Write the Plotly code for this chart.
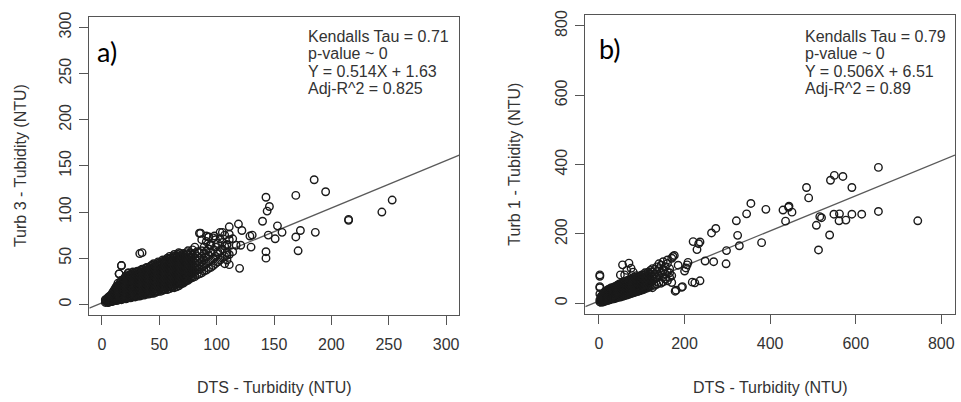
import plotly.graph_objects as go

# ---------------- panel a) : Turb 3 vs DTS ----------------
# dense cloud, listed column by column: x -> y values
a_cloud = [
    (3, [2, 4, 5]),
    (4, [3, 4]),
    (5, [2, 3, 5, 7]),
    (6, [2, 4, 6, 8]),
    (7, [3, 5, 7, 9]),
    (8, [3, 4, 6, 8, 10]),
    (9, [3, 5, 7, 9, 12]),
    (10, [4, 6, 7, 9, 11, 14]),
    (11, [4, 6, 8, 10, 13, 16]),
    (12, [5, 7, 9, 12, 15, 18]),
    (13, [4, 6, 9, 11, 14, 17, 20]),
    (14, [5, 8, 10, 13, 16, 19, 23]),
    (15, [5, 7, 9, 12, 15, 18, 21, 33]),
    (16, [6, 8, 11, 14, 17, 20, 24]),
    (17, [5, 8, 10, 13, 16, 19, 22, 26, 42]),
    (18, [6, 9, 12, 15, 18, 21, 25]),
    (19, [6, 8, 11, 14, 17, 20, 24, 27]),
    (20, [7, 10, 13, 16, 19, 23, 26, 29]),
    (21, [6, 9, 12, 15, 18, 21, 25, 28, 31]),
    (22, [7, 11, 14, 17, 20, 24, 27, 30]),
    (23, [7, 10, 13, 16, 19, 22, 26, 29, 34]),
    (24, [8, 11, 14, 18, 21, 25, 28, 32]),
    (25, [7, 10, 13, 16, 20, 23, 27, 30]),
    (26, [8, 12, 15, 18, 22, 25, 29, 33]),
    (27, [8, 11, 14, 17, 20, 24, 28, 31, 35]),
    (28, [9, 12, 16, 19, 23, 26, 30, 34]),
    (29, [8, 11, 15, 18, 21, 25, 29, 32]),
    (30, [9, 13, 17, 20, 24, 28, 31, 35]),
    (31, [9, 12, 15, 19, 22, 26, 30, 33, 36]),
    (32, [10, 14, 17, 21, 25, 29, 32, 36]),
    (33, [9, 12, 16, 19, 23, 27, 31, 34, 55]),
    (34, [10, 14, 18, 22, 26, 30, 33, 37]),
    (35, [10, 13, 17, 20, 24, 28, 32, 35, 38, 56]),
    (36, [11, 15, 19, 23, 27, 31, 34, 38]),
    (37, [10, 14, 17, 21, 25, 29, 33, 36]),
    (38, [12, 16, 20, 24, 28, 32, 35, 39]),
    (39, [11, 14, 18, 22, 26, 30, 34, 37, 40]),
    (40, [12, 16, 21, 25, 29, 33, 36, 40]),
    (41, [11, 15, 19, 23, 27, 31, 35, 38]),
    (42, [13, 17, 22, 26, 30, 34, 38, 41]),
    (43, [12, 16, 20, 24, 28, 32, 36, 39, 42]),
    (44, [14, 18, 22, 26, 30, 34, 38, 42]),
    (45, [12, 16, 20, 24, 28, 32, 36, 40, 44]),
    (46, [14, 19, 23, 27, 31, 35, 39, 43]),
    (47, [13, 17, 21, 25, 29, 33, 37, 41]),
    (48, [15, 20, 24, 28, 32, 36, 40, 44]),
    (49, [14, 18, 22, 26, 30, 34, 38, 42, 46]),
    (50, [16, 20, 25, 29, 33, 37, 41, 45]),
    (51, [14, 18, 23, 27, 31, 35, 39, 43]),
    (52, [16, 21, 25, 30, 34, 38, 42, 46]),
    (53, [15, 19, 23, 28, 32, 36, 40, 44, 48]),
    (54, [17, 22, 26, 30, 35, 39, 43, 47]),
    (55, [16, 20, 24, 28, 33, 37, 41, 45]),
    (56, [18, 23, 27, 31, 35, 40, 44, 48]),
    (57, [16, 21, 25, 29, 33, 38, 42, 46, 50]),
    (58, [19, 23, 28, 32, 36, 41, 45, 49]),
    (59, [17, 21, 26, 30, 34, 39, 43, 47, 52]),
    (60, [19, 24, 29, 33, 37, 42, 46, 50]),
    (61, [18, 22, 27, 31, 35, 40, 44, 48]),
    (62, [20, 25, 29, 34, 38, 43, 47, 52]),
    (63, [18, 23, 27, 32, 36, 41, 45, 50, 54]),
    (64, [21, 26, 30, 35, 39, 44, 48, 52]),
    (65, [19, 24, 28, 33, 37, 42, 46, 51]),
    (66, [22, 27, 31, 36, 40, 45, 49, 54]),
    (67, [20, 25, 29, 34, 38, 43, 47, 52, 56]),
    (68, [23, 28, 32, 37, 41, 46, 50, 55]),
    (69, [22, 26, 30, 35, 39, 44, 48, 53]),
    (70, [24, 29, 33, 38, 43, 47, 52]),
    (71, [23, 27, 32, 36, 41, 45, 50, 55]),
    (72, [25, 30, 35, 39, 44, 49, 53]),
    (73, [25, 29, 34, 38, 42, 47, 51]),
    (74, [27, 32, 36, 41, 46, 50, 56]),
    (75, [26, 31, 35, 40, 44, 49, 54, 58]),
    (76, [28, 33, 38, 43, 48, 53]),
    (77, [28, 33, 37, 42, 46, 51, 56]),
    (78, [30, 35, 40, 45, 50, 55]),
    (79, [29, 34, 38, 43, 48, 53, 59]),
    (81, [30, 35, 40, 45, 50, 55, 62]),
    (83, [32, 37, 42, 47, 52, 57]),
    (85, [33, 38, 44, 50, 56, 77]),
    (87, [34, 40, 46, 52, 58, 70]),
    (89, [36, 42, 48, 55, 62]),
    (91, [37, 44, 51, 58, 68, 74]),
    (93, [39, 46, 53, 60, 73]),
    (95, [40, 48, 56, 64]),
    (97, [42, 50, 59, 72]),
    (99, [44, 52, 62, 70]),
    (101, [46, 55, 57, 66]),
    (103, [48, 58, 71, 78]),
    (105, [50, 60, 67, 78]),
    (107, [44, 52, 63, 75]),
    (109, [48, 53, 56, 64, 65]),
    (111, [43, 54, 70, 76, 84]),
]
# scattered high readings
a_x_extra = [253, 244, 215, 215, 195, 185, 186, 169, 173, 169, 171, 157, 153, 151,
             145, 143, 146, 144, 140, 143, 143, 131, 129, 130, 120, 119, 122, 117,
             121, 114, 114, 98, 93, 86, 94, 101, 17, 15, 23]
a_y_extra = [113, 100, 92, 91, 122, 135, 78, 118, 80, 73, 58, 78, 85, 71,
             75, 116, 106, 101, 90, 57, 50, 75, 74, 62, 39, 87, 80, 64,
             64, 71, 57, 74, 73, 77, 64, 46, 42, 33, 34]

# ---------------- panel b) : Turb 1 vs DTS ----------------
b_cloud = [
    (2, [4, 10, 27, 45, 48, 78, 82]),
    (5, [3, 8, 14, 20]),
    (7.5, [5, 11, 17, 23]),
    (10, [4, 10, 16, 22, 28]),
    (12.5, [7, 13, 19, 25, 31]),
    (15, [6, 12, 18, 24, 30, 36]),
    (17.5, [9, 15, 21, 27, 33]),
    (20, [8, 14, 20, 26, 32, 38]),
    (22.5, [11, 17, 23, 29, 35, 41]),
    (25, [10, 16, 22, 28, 34, 40]),
    (27.5, [13, 19, 25, 31, 37, 44]),
    (30, [12, 18, 24, 30, 36, 42]),
    (32.5, [14, 21, 27, 33, 40, 46]),
    (35, [13, 19, 25, 31, 37, 44]),
    (37.5, [16, 22, 29, 36, 42, 49]),
    (40, [15, 21, 27, 33, 40, 47]),
    (42.5, [18, 24, 31, 38, 45, 52]),
    (45, [17, 23, 29, 36, 43, 50]),
    (47.5, [20, 26, 33, 40, 48, 56]),
    (50, [18, 25, 32, 39, 46, 53, 82]),
    (52.5, [21, 28, 35, 43, 50, 58]),
    (55, [20, 27, 34, 41, 48, 55, 111]),
    (57.5, [23, 30, 38, 45, 53, 61]),
    (60, [22, 29, 36, 43, 50, 57, 82]),
    (62.5, [25, 32, 40, 48, 56, 64]),
    (65, [24, 31, 38, 45, 52, 60, 95]),
    (67.5, [27, 35, 43, 51, 59, 67]),
    (70, [26, 33, 40, 47, 54, 62, 116]),
    (72.5, [29, 37, 45, 53, 61, 70]),
    (75, [28, 35, 42, 49, 57, 65, 101]),
    (77.5, [31, 39, 47, 55, 64, 72]),
    (80, [30, 37, 44, 52, 60, 68, 90]),
    (82.5, [33, 41, 50, 58, 67, 76]),
    (85, [32, 40, 48, 56, 64, 72]),
    (87.5, [35, 44, 53, 62, 71, 80]),
    (90, [34, 42, 50, 58, 66, 75]),
    (92.5, [37, 46, 56, 65, 74]),
    (95, [36, 44, 53, 62, 70, 78]),
    (97.5, [39, 49, 58, 68, 78]),
    (100, [38, 47, 56, 65, 74, 82]),
    (102.5, [42, 52, 62, 72, 82]),
    (105, [40, 50, 60, 70, 80]),
    (107.5, [44, 55, 66, 77, 88]),
    (110, [43, 53, 63, 74, 85]),
    (112.5, [47, 58, 69, 80]),
    (115, [45, 56, 67, 78, 90]),
    (117.5, [50, 62, 74, 86]),
    (120, [48, 60, 72, 84, 95]),
    (125, [45, 65, 78, 90, 100]),
    (130, [52, 70, 85, 98]),
    (135, [55, 75, 92, 105]),
    (140, [60, 80, 100, 114]),
    (145, [58, 88, 110]),
    (150, [62, 75, 95, 120]),
    (155, [70, 85, 105]),
    (160, [65, 90, 115, 125]),
    (165, [75, 100, 88]),
    (170, [80, 60, 130]),
]
b_x_extra = [745, 653, 653, 614, 591, 591, 570, 550, 541, 562, 549, 561, 577, 539,
             513, 508, 516, 520, 490, 485, 451, 443, 444, 430, 436, 390, 380, 355,
             345, 328, 324, 321, 298, 297, 273, 263, 268, 248, 236, 220, 229, 233,
             236, 218, 208, 203, 206, 195, 180, 178, 193, 176, 173, 200, 224, 185]
b_y_extra = [238, 392, 265, 257, 257, 334, 366, 369, 355, 258, 257, 238, 240, 197,
             154, 225, 250, 247, 304, 334, 263, 277, 280, 269, 237, 271, 175, 288,
             258, 166, 196, 238, 152, 114, 216, 203, 120, 122, 177, 178, 155, 172,
             65, 61, 118, 102, 111, 48, 38, 35, 46, 138, 135, 93, 59, 110]

# fitted lines
a_slope, a_icpt = 0.514, 1.63
b_slope, b_icpt = 0.506, 6.51

a_stats = ["Kendalls Tau = 0.71", "p-value ~ 0", "Y = 0.514X + 1.63", "Adj-R^2 = 0.825"]
b_stats = ["Kendalls Tau = 0.79", "p-value ~ 0", "Y = 0.506X + 6.51", "Adj-R^2 = 0.89"]

a_ticks = [0, 50, 100, 150, 200, 250, 300]
b_ticks = [0, 200, 400, 600, 800]
a_range_x, a_range_y = [-11, 311.5], [-12, 311.5]
b_range_x, b_range_y = [-32, 832], [-32, 832]


def flatten(cloud, xs_extra, ys_extra):
    xs, ys = [], []
    for xv, col in cloud:
        for yv in col:
            xs.append(xv)
            ys.append(yv)
    return xs + list(xs_extra), ys + list(ys_extra)


ax_x, ax_y = flatten(a_cloud, a_x_extra, a_y_extra)
bx_x, bx_y = flatten(b_cloud, b_x_extra, b_y_extra)

W, H = 961, 402
TXT = "#333333"
EDGE = "#555555"
FONT = "Liberation Sans, Arial, sans-serif"

marker = dict(symbol="circle-open", size=7.5, color="#1a1a1a", line=dict(width=1.4))
fit_line = dict(color="#5a5a5a", width=1.3)

fig = go.Figure()
# fitted lines first so the point clouds sit on top of them
fig.add_trace(go.Scatter(x=a_range_x, y=[a_slope * v + a_icpt for v in a_range_x],
                         mode="lines", line=fit_line, xaxis="x", yaxis="y", showlegend=False))
fig.add_trace(go.Scatter(x=b_range_x, y=[b_slope * v + b_icpt for v in b_range_x],
                         mode="lines", line=fit_line, xaxis="x2", yaxis="y2", showlegend=False))
fig.add_trace(go.Scatter(x=ax_x, y=ax_y, mode="markers", marker=marker,
                         xaxis="x", yaxis="y", showlegend=False))
fig.add_trace(go.Scatter(x=bx_x, y=bx_y, mode="markers", marker=marker,
                         xaxis="x2", yaxis="y2", showlegend=False))


def axis(domain, rng, ticks, anchor, angle=0, standoff=0):
    return dict(domain=domain, range=rng, tickvals=ticks, ticks="outside", ticklen=9,
                tickcolor=EDGE, tickwidth=1, showline=True, mirror=True,
                linecolor=EDGE, linewidth=1, showgrid=False, zeroline=False,
                tickangle=angle, anchor=anchor, ticklabelstandoff=standoff,
                tickfont=dict(family=FONT, size=16, color=TXT))


# plot boxes in pixels
a_box = (89.3, 459.3, 12, 314.3)
b_box = (585.3, 955, 10, 313.3)


def dom(box):
    l, r, t, b = box
    return [l / W, r / W], [1 - b / H, 1 - t / H]


a_dx, a_dy = dom(a_box)
b_dx, b_dy = dom(b_box)

fig.update_layout(
    width=W, height=H, margin=dict(l=0, r=0, t=0, b=0),
    paper_bgcolor="white", plot_bgcolor="white",
    xaxis=axis(a_dx, a_range_x, a_ticks, "y", standoff=5),
    yaxis=axis(a_dy, a_range_y, a_ticks, "x", -90, standoff=2),
    xaxis2=axis(b_dx, b_range_x, b_ticks, "y2", standoff=5),
    yaxis2=axis(b_dy, b_range_y, b_ticks, "x2", -90, standoff=2),
)

ann = []


def px(xp, yp):
    return xp / W, 1 - yp / H


# axis titles
for box, ytitle, ytx in [(a_box, "Turb 3 - Tubidity (NTU)", 20), (b_box, "Turb 1 - Tubidity (NTU)", 515)]:
    cx = (box[0] + box[1]) / 2
    x0, y0 = px(cx, 387)
    ann.append(dict(x=x0, y=y0, xref="paper", yref="paper", text="DTS - Turbidity (NTU)",
                    xanchor="center", yanchor="middle",
                    showarrow=False, font=dict(family=FONT, size=16, color=TXT)))
    x1, y1 = px(ytx, (box[2] + box[3]) / 2)
    ann.append(dict(x=x1, y=y1, xref="paper", yref="paper", text=ytitle, textangle=-90,
                    xanchor="center", yanchor="middle",
                    showarrow=False, font=dict(family=FONT, size=16, color=TXT)))

# statistics text
for left, lines in [(306, a_stats), (802.7, b_stats)]:
    for i, s in enumerate(lines):
        x0, y0 = px(left, 31.7 + 17.7 * i)
        ann.append(dict(x=x0, y=y0, xref="paper", yref="paper", text=s, xanchor="left",
                        yanchor="middle", showarrow=False,
                        font=dict(family=FONT, size=16, color=TXT)))

# panel letters
for lab, cx, cy in [("a)", 107, 47), ("b)", 610, 44)]:
    x0, y0 = px(cx, cy)
    ann.append(dict(x=x0, y=y0, xref="paper", yref="paper", text=lab, showarrow=False,
                    xanchor="center", yanchor="middle",
                    font=dict(family="Lato, Open Sans, sans-serif", size=27, color="#000")))

fig.update_layout(annotations=ann)
fig.write_html("out.html")
